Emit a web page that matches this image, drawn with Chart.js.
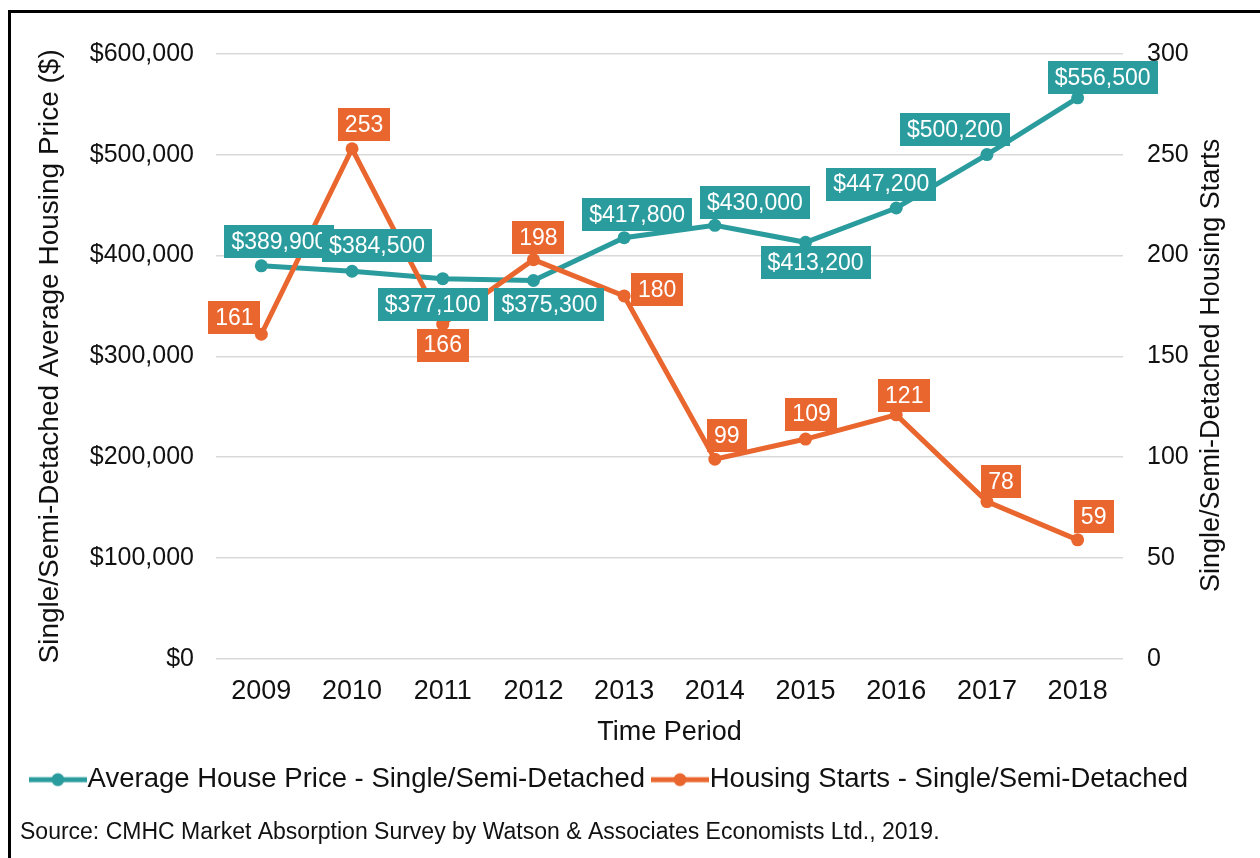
<!DOCTYPE html>
<html><head><meta charset="utf-8">
<script src="https://cdn.jsdelivr.net/npm/chart.js@4.4.1/dist/chart.umd.min.js"></script>
<style>
html,body{margin:0;padding:0;background:#fff;overflow:hidden;}
#wrap{position:relative;width:1260px;height:858px;}
#frame{position:absolute;left:8px;top:10px;width:1300px;height:900px;border-left:3px solid #000;border-top:3px solid #000;pointer-events:none;}
</style></head><body>
<div id="wrap"><canvas id="c" width="1260" height="858"></canvas><div id="frame"></div></div>
<script>
// ---- data ----
const years = ['2009','2010','2011','2012','2013','2014','2015','2016','2017','2018'];
const avgPrice = [389900, 384500, 377100, 375300, 417800, 430000, 413200, 447200, 500200, 556500];
const housingStarts = [161, 253, 166, 198, 180, 99, 109, 121, 78, 59];
const priceTicks = [0, 100000, 200000, 300000, 400000, 500000, 600000];
const startsTicks = [0, 50, 100, 150, 200, 250, 300];
const seriesNames = ['Average House Price - Single/Semi-Detached', 'Housing Starts - Single/Semi-Detached'];

// ---- presentation ----
const TEAL = '#2b9c9e';
const ORANGE = '#e9662e';
const FONT = '"Liberation Sans", Arial, Helvetica, sans-serif';
const TXT = '#111';
// data-label placement relative to each point (dx, dy)
const priceLabelShift = [[18,-24],[25,-26],[-10,26],[16,24],[13,-23],[40,-23],[10,20],[-15,-24],[-32,-25],[25,-20]];
const startsLabelShift = [[-27,-17],[12,-24],[0,21],[5,-22],[33,-6],[12,-24],[6,-25],[8,-19],[14,-20],[16,-23]];

function markerImage(color){
  const c = document.createElement('canvas');
  c.width = 58; c.height = 16;
  const g = c.getContext('2d');
  g.fillStyle = color;
  g.fillRect(0, 5.5, 58, 5);
  g.beginPath(); g.arc(29, 8, 6.5, 0, Math.PI*2); g.fill();
  return c;
}
const markers = [markerImage(TEAL), markerImage(ORANGE)];

const money = v => '$' + Number(v).toLocaleString('en-US');

const labelPlugin = {
  id: 'boxLabels',
  afterDatasetsDraw(chart){
    const ctx = chart.ctx;
    ctx.save();
    ctx.font = '23px ' + FONT;
    ctx.textAlign = 'center';
    ctx.textBaseline = 'middle';
    const sets = [
      {idx:0, vals:avgPrice, shift:priceLabelShift, color:TEAL, fmt:money},
      {idx:1, vals:housingStarts, shift:startsLabelShift, color:ORANGE, fmt:v=>String(v)}
    ];
    sets.forEach(s => {
      const meta = chart.getDatasetMeta(s.idx);
      meta.data.forEach((pt, i) => {
        const txt = s.fmt(s.vals[i]);
        const w = ctx.measureText(txt).width + 14;
        const h = 33;
        const cx = pt.x + s.shift[i][0];
        const cy = pt.y + s.shift[i][1];
        ctx.fillStyle = s.color;
        ctx.fillRect(Math.round(cx - w/2), Math.round(cy - h/2), Math.round(w), h);
        ctx.fillStyle = '#fff';
        ctx.fillText(txt, cx, cy + 1);
      });
    });
    ctx.restore();
  },
  afterDraw(chart){
    const ctx = chart.ctx;
    const a = chart.chartArea;
    ctx.save();
    ctx.font = '27px ' + FONT;
    ctx.fillStyle = TXT;
    ctx.textAlign = 'center';
    ctx.textBaseline = 'middle';
    ctx.translate(a.right + 89, (a.top + a.bottom)/2 + 9);
    ctx.rotate(-Math.PI/2);
    ctx.fillText('Single/Semi-Detached Housing Starts', 0, 0);
    ctx.restore();
  }
};

new Chart(document.getElementById('c'), {
  type: 'line',
  data: {
    labels: years,
    datasets: [
      {label: seriesNames[0], data: avgPrice, yAxisID: 'y', borderColor: TEAL, backgroundColor: TEAL,
       borderWidth: 5, pointRadius: 6.5, pointBackgroundColor: TEAL, pointBorderWidth: 0, order: 2, tension: 0},
      {label: seriesNames[1], data: housingStarts, yAxisID: 'y1', borderColor: ORANGE, backgroundColor: ORANGE,
       borderWidth: 5, pointRadius: 6.5, pointBackgroundColor: ORANGE, pointBorderWidth: 0, order: 1, tension: 0}
    ]
  },
  options: {
    responsive: false,
    animation: false,
    events: [],
    layout: {padding: {left: 20, right: 50, top: 54, bottom: 5}},
    scales: {
      x: {
        type: 'category', offset: true,
        grid: {display: false, drawTicks: false}, border: {display: false},
        ticks: {color: TXT, font: {family: FONT, size: 27}, padding: 17, maxRotation: 0, autoSkip: false},
        title: {display: true, text: 'Time Period', color: TXT, font: {family: FONT, size: 27, lineHeight: 1.04}, padding: 0},
        afterFit: s => { s.height = 88.1; }
      },
      y: {
        position: 'left', min: priceTicks[0], max: priceTicks[priceTicks.length-1],
        afterBuildTicks: s => { s.ticks = priceTicks.map(v => ({value: v})); },
        grid: {color: '#d9d9d9', lineWidth: 1.5, drawTicks: false}, border: {display: false},
        ticks: {color: TXT, font: {family: FONT, size: 25}, padding: 22, callback: v => money(v)},
        title: {display: true, text: 'Single/Semi-Detached Average Housing Price ($)', color: TXT,
                font: {family: FONT, size: 28}, padding: {top: 13, bottom: 0}},
        afterFit: s => { s.width = 196; }
      },
      y1: {
        position: 'right', min: startsTicks[0], max: startsTicks[startsTicks.length-1],
        afterBuildTicks: s => { s.ticks = startsTicks.map(v => ({value: v})); },
        grid: {display: false, drawTicks: false}, border: {display: false},
        ticks: {color: TXT, font: {family: FONT, size: 25}, padding: 24},
        afterFit: s => { s.width = 87; }
      }
    },
    plugins: {
      tooltip: {enabled: false},
      legend: {
        position: 'bottom',
        labels: {
          usePointStyle: true, pointStyleWidth: 32, padding: 19, color: TXT,
          font: {family: FONT, size: 27.5},
          sort: (a, b) => a.datasetIndex - b.datasetIndex,
          generateLabels: chart => {
            const items = Chart.defaults.plugins.legend.labels.generateLabels(chart);
            items.forEach(it => { it.pointStyle = markers[it.datasetIndex]; });
            return items;
          }
        }
      },
      title: {
        display: true, position: 'bottom', align: 'start',
        text: 'Source: CMHC Market Absorption Survey by Watson & Associates Economists Ltd., 2019.',
        color: TXT, font: {family: FONT, size: 23, weight: 'normal'}, padding: {top: 15, bottom: 7}
      }
    }
  },
  plugins: [labelPlugin]
});
</script>
</body></html>
